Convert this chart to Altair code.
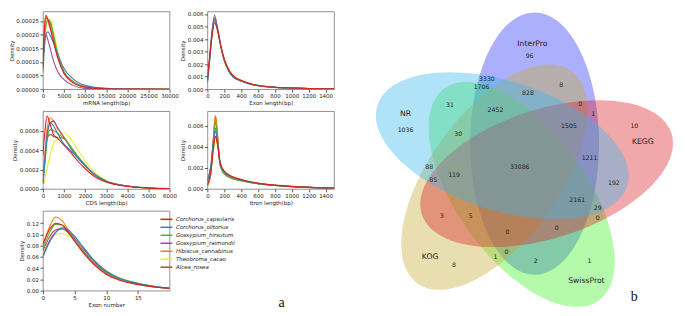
import altair as alt
import pandas as pd

# ---------------- data: density curves ----------------
species = ["Corchorus_capsularis", "Corchorus_olitorius", "Gossypium_hirsutum",
           "Gossypium_raimondii", "Hibiscus_cannabinus", "Theobroma_cacao", "Alcea_rosea"]
line_colors = ["#e41a1c", "#377eb8", "#4daf4a", "#984ea3", "#ff7f00", "#eeee2e", "#a65628"]

mrna_x = [0, 300, 700, 1200, 1800, 2500, 3500, 5000, 7000, 10000, 15000, 20000, 30000]
mrna_y = {
    "Corchorus_capsularis": [0.00008, 0.00020, 0.00027, 0.000255, 0.00022, 0.000175, 0.000115, 0.000058, 0.000025, 0.000008, 0.0000015, 0.0000005, 0.0],
    "Corchorus_olitorius": [0.00006, 0.00014, 0.00020, 0.00021, 0.000195, 0.00017, 0.00013, 0.000076, 0.00004, 0.000014, 0.000003, 0.000001, 0.0],
    "Gossypium_hirsutum": [0.00007, 0.00017, 0.00023, 0.000255, 0.000245, 0.00020, 0.00013, 0.000064, 0.00003, 0.000009, 0.000002, 0.0000005, 0.0],
    "Gossypium_raimondii": [0.00009, 0.00017, 0.00020, 0.00018, 0.000145, 0.000105, 0.000065, 0.000035, 0.000015, 0.000003, 0.0000005, 0.0, 0.0],
    "Hibiscus_cannabinus": [0.00008, 0.00021, 0.00027, 0.00025, 0.00022, 0.00018, 0.00012, 0.00006, 0.000028, 0.000008, 0.0000015, 0.0000005, 0.0],
    "Theobroma_cacao": [0.00005, 0.00014, 0.00022, 0.00025, 0.000255, 0.000215, 0.00014, 0.000065, 0.00003, 0.000009, 0.000002, 0.0000005, 0.0],
    "Alcea_rosea": [0.00007, 0.00019, 0.00026, 0.000255, 0.00024, 0.000195, 0.000125, 0.000062, 0.000028, 0.000008, 0.0000015, 0.0000005, 0.0],
}

exon_x = [0, 25, 50, 85, 120, 160, 200, 250, 300, 400, 500, 600, 800, 1000, 1200, 1500]
exon_y = {
    "Corchorus_capsularis": [0.0008, 0.0024, 0.0040, 0.0053, 0.0047, 0.0034, 0.0024, 0.0016, 0.0011, 0.0007, 0.00045, 0.0003, 0.00016, 0.0001, 0.00006, 0.00003],
    "Corchorus_olitorius": [0.0005, 0.0022, 0.0041, 0.0057, 0.0048, 0.0034, 0.0023, 0.0015, 0.0010, 0.00065, 0.00042, 0.00028, 0.00015, 0.00009, 0.00005, 0.00003],
    "Gossypium_hirsutum": [0.0006, 0.0023, 0.0041, 0.0055, 0.0047, 0.0034, 0.0023, 0.0015, 0.00105, 0.00068, 0.00044, 0.0003, 0.00016, 0.0001, 0.00006, 0.00003],
    "Gossypium_raimondii": [0.0007, 0.0025, 0.0044, 0.0059, 0.0049, 0.0034, 0.0023, 0.0015, 0.0010, 0.00065, 0.00042, 0.00028, 0.00015, 0.00009, 0.00005, 0.00003],
    "Hibiscus_cannabinus": [0.0006, 0.0023, 0.0040, 0.0054, 0.0047, 0.0034, 0.0024, 0.0016, 0.0011, 0.0007, 0.00045, 0.0003, 0.00016, 0.0001, 0.00006, 0.00003],
    "Theobroma_cacao": [0.0006, 0.0022, 0.0040, 0.0055, 0.0047, 0.0034, 0.0024, 0.0016, 0.0011, 0.0007, 0.00046, 0.0003, 0.00017, 0.0001, 0.00006, 0.00003],
    "Alcea_rosea": [0.0006, 0.0023, 0.0041, 0.0056, 0.0048, 0.0034, 0.0023, 0.0015, 0.00105, 0.00068, 0.00044, 0.0003, 0.00016, 0.0001, 0.00006, 0.00003],
}

cds_x = [0, 100, 200, 350, 500, 700, 1000, 1300, 1600, 2000, 2500, 3000, 4000, 5000, 6000]
cds_y = {
    "Corchorus_capsularis": [0.00035, 0.0006, 0.00075, 0.00066, 0.00056, 0.00052, 0.00045, 0.00038, 0.0003, 0.00021, 0.00012, 0.00007, 0.000025, 0.00001, 0.000003],
    "Corchorus_olitorius": [0.00005, 0.0003, 0.00055, 0.00068, 0.00065, 0.00057, 0.00046, 0.0004, 0.00033, 0.00024, 0.00014, 0.00008, 0.00003, 0.000012, 0.000004],
    "Gossypium_hirsutum": [0.00005, 0.00028, 0.0005, 0.00061, 0.0006, 0.00057, 0.00052, 0.00044, 0.00035, 0.00025, 0.00014, 0.00008, 0.00003, 0.00001, 0.000003],
    "Gossypium_raimondii": [0.00005, 0.0003, 0.00055, 0.00068, 0.0007, 0.00063, 0.00053, 0.00043, 0.00034, 0.00024, 0.00014, 0.00008, 0.00003, 0.00001, 0.000003],
    "Hibiscus_cannabinus": [0.00008, 0.00038, 0.00062, 0.00073, 0.0007, 0.00062, 0.00053, 0.00044, 0.00035, 0.00024, 0.00014, 0.00008, 0.00003, 0.00001, 0.000003],
    "Theobroma_cacao": [0.00002, 0.0001, 0.00022, 0.00035, 0.00046, 0.00052, 0.00058, 0.00052, 0.00042, 0.00029, 0.00016, 0.00009, 0.00003, 0.00001, 0.000003],
    "Alcea_rosea": [0.00008, 0.00035, 0.00052, 0.00056, 0.00054, 0.00053, 0.00052, 0.00043, 0.00034, 0.00024, 0.00014, 0.00008, 0.00003, 0.00001, 0.000003],
}

intron_x = [0, 40, 70, 95, 120, 150, 200, 300, 400, 600, 800, 1000, 1200, 1500]
intron_y = {
    "Corchorus_capsularis": [0.0004, 0.0016, 0.0037, 0.0050, 0.0042, 0.0025, 0.0017, 0.00115, 0.0009, 0.00055, 0.00036, 0.00024, 0.00016, 0.00008],
    "Corchorus_olitorius": [0.0008, 0.0021, 0.0043, 0.0055, 0.0044, 0.0025, 0.0016, 0.0011, 0.00085, 0.00052, 0.00035, 0.00023, 0.00015, 0.00008],
    "Gossypium_hirsutum": [0.0003, 0.0014, 0.0044, 0.0064, 0.0047, 0.0022, 0.0014, 0.00095, 0.00075, 0.00048, 0.00032, 0.00022, 0.00015, 0.00008],
    "Gossypium_raimondii": [0.0008, 0.0022, 0.0045, 0.0058, 0.0045, 0.0025, 0.0016, 0.0011, 0.00085, 0.00052, 0.00035, 0.00023, 0.00015, 0.00008],
    "Hibiscus_cannabinus": [0.0003, 0.0015, 0.0048, 0.0070, 0.0052, 0.0024, 0.0015, 0.0010, 0.0008, 0.0005, 0.00033, 0.00022, 0.00015, 0.00008],
    "Theobroma_cacao": [0.0003, 0.0015, 0.0036, 0.0049, 0.0041, 0.0025, 0.0017, 0.00115, 0.0009, 0.00055, 0.00036, 0.00024, 0.00016, 0.00009],
    "Alcea_rosea": [0.0003, 0.0015, 0.0047, 0.0069, 0.0051, 0.0024, 0.0015, 0.0010, 0.0008, 0.0005, 0.00033, 0.00022, 0.00015, 0.00008],
}

exnum_x = [0, 1, 2, 3, 4, 5, 6, 8, 10, 12, 15, 18, 20]
exnum_y = {
    "Corchorus_capsularis": [0.083, 0.108, 0.120, 0.117, 0.104, 0.088, 0.073, 0.047, 0.029, 0.019, 0.011, 0.006, 0.004],
    "Corchorus_olitorius": [0.060, 0.085, 0.103, 0.112, 0.108, 0.097, 0.083, 0.055, 0.035, 0.023, 0.013, 0.007, 0.004],
    "Gossypium_hirsutum": [0.075, 0.102, 0.118, 0.117, 0.106, 0.091, 0.076, 0.050, 0.032, 0.021, 0.012, 0.006, 0.004],
    "Gossypium_raimondii": [0.062, 0.088, 0.104, 0.110, 0.105, 0.094, 0.080, 0.053, 0.033, 0.022, 0.012, 0.007, 0.004],
    "Hibiscus_cannabinus": [0.080, 0.112, 0.131, 0.125, 0.108, 0.090, 0.074, 0.048, 0.030, 0.020, 0.011, 0.006, 0.004],
    "Theobroma_cacao": [0.066, 0.088, 0.100, 0.102, 0.098, 0.090, 0.079, 0.054, 0.035, 0.023, 0.013, 0.007, 0.004],
    "Alcea_rosea": [0.070, 0.095, 0.108, 0.110, 0.103, 0.090, 0.076, 0.050, 0.032, 0.021, 0.012, 0.006, 0.004],
}

# ---------------- data: Venn diagram ----------------
venn_sets = ["NR", "InterPro", "KEGG", "SwissProt", "KOG"]
venn_counts = [96, 3330, 1706, 8, 828, 31, 2452, 0, 1, 1036, 10, 1505, 30, 1211, 88,
               33086, 119, 85, 192, 2161, 29, 3, 5, 0, 0, 0, 0, 1, 2, 1, 8]

# ---------------- layout / style (not data) ----------------
FONT = "DejaVu Sans"
FS = 5.5
PW, PH = 127, 78

venn_fill = ["#39b6ed", "#2f39f7", "#d9252a", "#43f22a", "#c5ac37"]
venn_cx = [503.9, 538.0, 550.7, 524.4, 495.5]
venn_cy = [144.8, 142.5, 174.2, 196.1, 177.9]
venn_rot = [198, 270, 342, 54, 306]
venn_z = [4, 0, 3, 1, 2]
name_x = [401.7, 535.7, 652.3, 592.7, 427.7]
name_y = [111.0, 37.7, 141.3, 287.7, 262.0]
count_x = [532.7, 487.7, 482.0, 566.0, 531.0, 448.7, 496.7, 586.3, 600.0, 401.7, 643.3, 574.3, 457.3,
           596.0, 426.7, 522.3, 453.0, 431.0, 621.7, 583.0, 604.7, 440.0, 470.7, 604.7, 561.3,
           509.3, 508.3, 496.7, 539.3, 596.0, 453.0]
count_y = [50.3, 74.0, 83.3, 80.7, 89.3, 102.3, 106.7, 101.0, 111.0, 127.7, 124.0, 124.0, 132.3,
           158.0, 167.3, 167.3, 176.0, 180.7, 184.3, 201.7, 210.7, 219.0, 219.0, 221.0, 231.7,
           236.3, 257.0, 262.3, 266.7, 266.7, 271.0]
VS = 0.95
VX0, VW = 365.2, 306
VY0, VH = 3.0, 296
ELL_B = 0.491
KB = round(0.5523 * ELL_B, 4)
ELLIPSE = (f"M 1 0 C 1 {KB} 0.5523 {ELL_B} 0 {ELL_B} C -0.5523 {ELL_B} -1 {KB} -1 0 "
           f"C -1 -{KB} -0.5523 -{ELL_B} 0 -{ELL_B} C 0.5523 -{ELL_B} 1 -{KB} 1 0 Z")
ELL_SIZE = (2 * 138.5 * VS) ** 2
LEGEND_LINE = "M -1.6 0 L 1.6 0"


def long_df(xs, ys):
    rows = []
    for sp in reversed(species):
        for xv, yv in zip(xs, ys[sp]):
            rows.append({"x": xv, "y": yv, "species": sp})
    return pd.DataFrame(rows)


def density_panel(xs, ys, xdom, ydom, xticks, yticks, yfmt, xtitle, h=PH, legend=None):
    return alt.Chart(long_df(xs, ys)).mark_line(
        strokeWidth=1.1, interpolate="monotone", clip=True
    ).encode(
        x=alt.X("x:Q", scale=alt.Scale(domain=xdom, nice=False, zero=False),
                axis=alt.Axis(values=xticks, format="d", title=xtitle,
                              labelFlush=False, labelOverlap=False)),
        y=alt.Y("y:Q", scale=alt.Scale(domain=ydom, nice=False, zero=False),
                axis=alt.Axis(values=yticks, format=yfmt, title="Density", labelOverlap=False)),
        color=alt.Color("species:N", scale=alt.Scale(domain=species, range=line_colors),
                        legend=legend),
    ).properties(width=PW, height=h)


p1 = density_panel(mrna_x, mrna_y, [0, 30000], [0, 0.000285],
                   [0, 5000, 10000, 15000, 20000, 25000, 30000],
                   [0, 0.00005, 0.0001, 0.00015, 0.0002, 0.00025], ".5f", "mRNA length(bp)")
p2 = density_panel(exon_x, exon_y, [0, 1500], [0, 0.0062],
                   [0, 200, 400, 600, 800, 1000, 1200, 1400],
                   [0, 0.001, 0.002, 0.003, 0.004, 0.005, 0.006], ".3f", "Exon length(bp)")
p3 = density_panel(cds_x, cds_y, [0, 6000], [0, 0.0008],
                   [0, 1000, 2000, 3000, 4000, 5000, 6000],
                   [0, 0.0002, 0.0004, 0.0006], ".4f", "CDS length(bp)")
p4 = density_panel(intron_x, intron_y, [0, 1500], [0, 0.0074],
                   [0, 200, 400, 600, 800, 1000, 1200, 1400],
                   [0, 0.002, 0.004, 0.006], ".3f", "Itron length(bp)")

legend5 = alt.Legend(orient="none", legendX=119.4, legendY=4.0, title=None,
                     labelFont=FONT, labelFontSize=FS, labelFontStyle="italic",
                     labelColor="#222", symbolType=LEGEND_LINE, symbolSize=56,
                     symbolStrokeWidth=1.5, rowPadding=0, labelOffset=5, padding=0,
                     labelLimit=300)
p5_lines = density_panel(exnum_x, exnum_y, [0, 20], [0, 0.142], [0, 5, 10, 15],
                         [0, 0.02, 0.04, 0.06, 0.08, 0.1, 0.12], ".2f", "Exon number",
                         h=80, legend=legend5)
p5_tag = alt.Chart(pd.DataFrame({"t": ["a"]})).mark_text(
    font="Liberation Serif", fontSize=14, color="#111", baseline="middle", align="center"
).encode(x=alt.value(239.4), y=alt.value(92), text="t:N")
p5 = alt.layer(p5_lines, p5_tag)

grid = alt.concat(p1, p2, p3, p4, p5, columns=2, spacing={"row": 22, "column": 38},
                  bounds="flush").resolve_scale(color="independent")

# ---------------- Venn ----------------
ell_df = pd.DataFrame({"set": venn_sets, "cx": venn_cx, "cy": venn_cy, "rot": venn_rot,
                       "col": venn_fill, "z": venn_z})
cnt_df = pd.DataFrame({"label": [str(c) for c in venn_counts], "lx": count_x, "ly": count_y})
name_df = pd.DataFrame({"label": venn_sets, "lx": name_x, "ly": name_y})
tag_df = pd.DataFrame({"label": ["b"], "lx": [643.3], "ly": [305.0]})

vx = alt.Scale(domain=[VX0, VX0 + VW / VS], nice=False, zero=False)
vy = alt.Scale(domain=[VY0, VY0 + VH / VS], nice=False, zero=False, reverse=True)

ellipses = alt.Chart(ell_df).mark_point(
    shape=ELLIPSE, filled=True, opacity=0.4, strokeWidth=0, clip=True
).encode(
    x=alt.X("cx:Q", scale=vx, axis=None),
    y=alt.Y("cy:Q", scale=vy, axis=None),
    angle=alt.Angle("rot:Q", scale=None),
    fill=alt.Fill("col:N", scale=None),
    size=alt.value(ELL_SIZE),
    order=alt.Order("z:Q"),
)
counts = alt.Chart(cnt_df).mark_text(font=FONT, fontSize=6.2, color="#222").encode(
    x=alt.X("lx:Q", scale=vx, axis=None), y=alt.Y("ly:Q", scale=vy, axis=None), text="label:N")
names = alt.Chart(name_df).mark_text(font=FONT, fontSize=7.7, color="#222").encode(
    x=alt.X("lx:Q", scale=vx, axis=None), y=alt.Y("ly:Q", scale=vy, axis=None), text="label:N")
tag_b = alt.Chart(tag_df).mark_text(font="Liberation Serif", fontSize=14, color="#111").encode(
    x=alt.X("lx:Q", scale=vx, axis=None), y=alt.Y("ly:Q", scale=vy, axis=None), text="label:N")

venn = alt.layer(ellipses, counts, names, tag_b).properties(
    width=VW, height=VH, view=alt.ViewBackground(stroke="transparent"))

chart = alt.hconcat(grid, venn, spacing=35).resolve_scale(color="independent").properties(
    padding={"left": 0, "top": 2, "right": 0, "bottom": 0}
).configure(background="white").configure_axis(
    labelFont=FONT, titleFont=FONT, labelFontSize=FS, titleFontSize=FS,
    titleFontWeight="normal", tickSize=3, tickColor="#333", tickWidth=0.8,
    labelColor="#222", titleColor="#222", labelPadding=1.5, titlePadding=1.5,
    domain=False, grid=False
).configure_view(stroke="#777", strokeWidth=0.8)

chart.save("out.html", embed_options={"renderer": "svg", "actions": False})
